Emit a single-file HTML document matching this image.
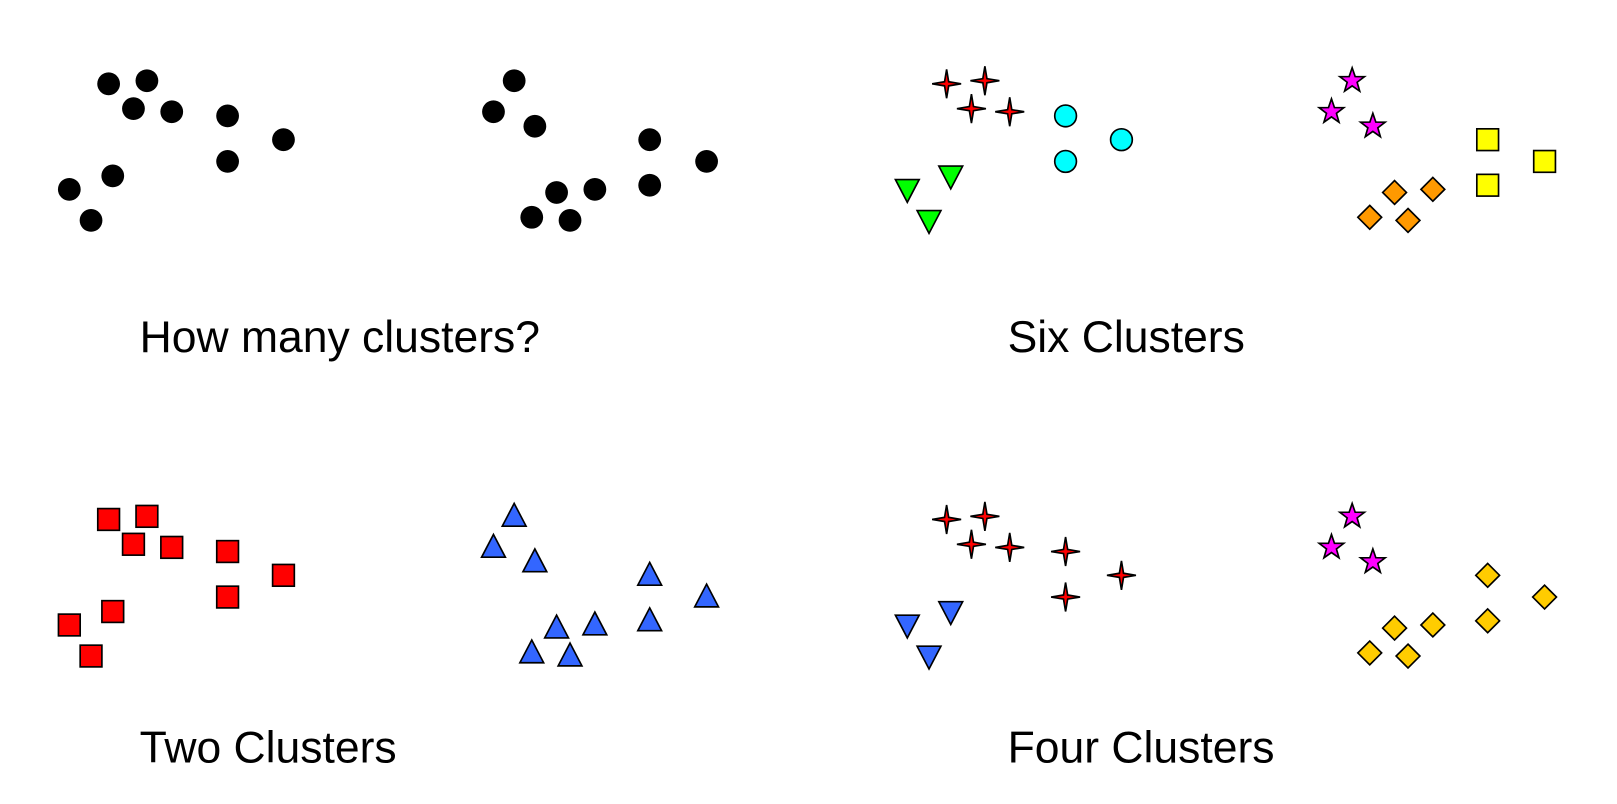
<!DOCTYPE html>
<html><head><meta charset="utf-8"><style>
html,body{margin:0;padding:0;background:#fff;width:1617px;height:804px;overflow:hidden}
svg{display:block}
text{font-family:"Liberation Sans",Arial,sans-serif;font-size:43px;fill:#000}
</style></head><body>
<svg id="chart" width="1617" height="804" viewBox="0 0 1563 777" preserveAspectRatio="none" xmlns="http://www.w3.org/2000/svg">
<g id="marks"></g>
<text x="135" y="340">How many clusters?</text>
<text x="974" y="340">Six Clusters</text>
<text x="135" y="737">Two Clusters</text>
<text x="974" y="737">Four Clusters</text>
</svg>
<script>
// point data (shared across panels)
const pointX = [105,142,129,166,220,274,220,109,67,88, 497,477,517,628,683,628,575,538,514,551];
const pointY = [81,78,105,108,112,135,156,170,183,213, 78,108,122,135,156,179,183,186,210,213];
// cluster assignments per panel
const labelsNone = [0,0,0,0,0,0,0,0,0,0, 0,0,0,0,0,0,0,0,0,0];
const labelsSix  = [0,0,0,0,1,1,1,2,2,2, 3,3,3,4,4,4,5,5,5,5];
const labelsTwo  = [0,0,0,0,0,0,0,0,0,0, 1,1,1,1,1,1,1,1,1,1];
const labelsFour = [0,0,0,0,0,0,0,1,1,1, 2,2,2,3,3,3,3,3,3,3];
// styles per cluster
const styleNone = [['circle','#000']];
const styleSix  = [['star4','#ff0000'],['circle','#00ffff'],['tridown','#00ff00'],['star5','#ff00ff'],['square','#ffff00'],['diamond','#ff9900']];
const styleTwo  = [['square','#ff0000'],['triup','#3366ff']];
const styleFour = [['star4','#ff0000'],['tridown','#3366ff'],['star5','#ff00ff'],['diamond','#ffcc00']];
const panels = [
  {name:'how-many',dx:0,dy:0,labels:labelsNone,styles:styleNone},
  {name:'six',dx:810,dy:0,labels:labelsSix,styles:styleSix},
  {name:'two',dx:0,dy:421,labels:labelsTwo,styles:styleTwo},
  {name:'four',dx:810,dy:421,labels:labelsFour,styles:styleFour}
];
const NS='http://www.w3.org/2000/svg';
const g=document.getElementById('marks');
function shape(type,x,y,fill){
  let el;
  if(type==='circle'){
    el=document.createElementNS(NS,'circle');
    el.setAttribute('cx',x);el.setAttribute('cy',y);el.setAttribute('r',fill==='#000'?11:10.5);
  }else if(type==='square'){
    el=document.createElementNS(NS,'rect');
    el.setAttribute('x',x-10.5);el.setAttribute('y',y-10.5);el.setAttribute('width',21);el.setAttribute('height',21);
  }else{
    let pts=[];
    if(type==='triup'){pts=[[0,-12.5],[11.5,9.5],[-11.5,9.5]];}
    else if(type==='tridown'){pts=[[-11.5,-9.5],[11.5,-9.5],[0,12.5]];}
    else if(type==='diamond'){pts=[[0,-11.5],[11.5,0],[0,11.5],[-11.5,0]];}
    else if(type==='star5'){for(let i=0;i<10;i++){const r=i%2?5:12.5,a=-Math.PI/2+i*Math.PI/5;pts.push([r*Math.cos(a),r*Math.sin(a)]);}}
    else if(type==='star4'){for(let i=0;i<8;i++){const r=i%2?2.8:14,a=-Math.PI/2+i*Math.PI/4;pts.push([r*Math.cos(a),r*Math.sin(a)]);}}
    el=document.createElementNS(NS,'polygon');
    el.setAttribute('points',pts.map(p=>(x+p[0]).toFixed(1)+','+(y+p[1]).toFixed(1)).join(' '));
  }
  el.setAttribute('fill',fill);
  el.setAttribute('stroke','#000');
  el.setAttribute('stroke-width',fill==='#000'?0:1.6);
  return el;
}
panels.forEach(p=>{
  const pg=document.createElementNS(NS,'g');
  
  
  for(let i=0;i<pointX.length;i++){
    const st=p.styles[p.labels[i]];
    const el=shape(st[0],pointX[i]+p.dx,pointY[i]+p.dy,st[1]);
    
    
    pg.appendChild(el);
  }
  g.appendChild(pg);
});
</script>
</body></html>
